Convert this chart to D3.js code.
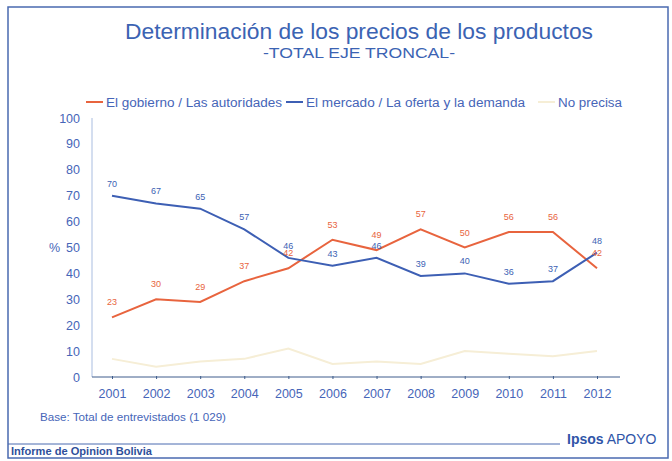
<!DOCTYPE html>
<html>
<head>
<meta charset="utf-8">
<script src="https://cdn.jsdelivr.net/npm/d3@7"></script>
<style>
  body { margin: 0; background: #fff; }
  svg { display: block; font-family: Arial, "Liberation Sans", sans-serif; }
</style>
</head>
<body>
<svg></svg>
<script>
// datos
const years = ["2001", "2002", "2003", "2004", "2005", "2006", "2007", "2008", "2009", "2010", "2011", "2012"];
const gobierno = [23, 30, 29, 37, 42, 53, 49, 57, 50, 56, 56, 42];
const mercado = [70, 67, 65, 57, 46, 43, 46, 39, 40, 36, 37, 48];
const noPrecisa = [7, 4, 6, 7, 11, 5, 6, 5, 10, 9, 8, 10];
const yTicks = [0, 10, 20, 30, 40, 50, 60, 70, 80, 90, 100];

const width = 672, height = 461;
const blue = "#3d5fb4", orange = "#e8643e", pale = "#f6eed6", textBlue = "#4665b8";

const svg = d3.select("svg").attr("width", width).attr("height", height);

// marco
svg.append("rect")
    .attr("x", 8).attr("y", 7).attr("width", 660).attr("height", 451)
    .attr("fill", "none").attr("stroke", "#4a6ab0").attr("stroke-width", 1.5);

// titulos (el original esta un poco estirado a lo ancho)
svg.append("text")
    .attr("x", 125).attr("y", 39)
    .attr("font-size", 22).attr("fill", "#3b63b3")
    .attr("textLength", 468).attr("lengthAdjust", "spacingAndGlyphs")
    .text("Determinación de los precios de los productos");
svg.append("text")
    .attr("x", 263).attr("y", 58)
    .attr("font-size", 14).attr("fill", "#3b63b3")
    .attr("textLength", 192).attr("lengthAdjust", "spacingAndGlyphs")
    .text("-TOTAL EJE TRONCAL-");

const x = d3.scalePoint().domain(years).range([112, 597]);
const y = d3.scaleLinear().domain([0, 100]).range([377, 118]);

// eje y
svg.append("line")
    .attr("x1", 92).attr("x2", 92).attr("y1", y(100)).attr("y2", y(0))
    .attr("stroke", "#a9bde0");
const yAxis = svg.append("g")
    .attr("transform", "translate(80,0)")
    .call(d3.axisLeft(y).tickValues(yTicks).tickSize(0).tickPadding(0));
yAxis.select(".domain").remove();
yAxis.selectAll("text").attr("font-size", 12.5).attr("fill", textBlue).attr("font-family", "Arial, 'Liberation Sans', sans-serif");

svg.append("text")
    .attr("x", 60).attr("y", y(50) + 4)
    .attr("text-anchor", "end")
    .attr("font-size", 12.5).attr("fill", textBlue)
    .text("%");

// eje x
const xAxis = svg.append("g")
    .attr("transform", "translate(0," + y(0) + ")")
    .call(d3.axisBottom(x).tickSize(3).tickPadding(9));
xAxis.select(".domain").attr("d", "M92,0H620").attr("stroke", "#3e5c8c");
xAxis.selectAll(".tick line").attr("stroke", "#3e5c8c").attr("y1", -1).attr("y2", 2);
xAxis.selectAll("text").attr("font-size", 12.5).attr("fill", textBlue).attr("font-family", "Arial, 'Liberation Sans', sans-serif");

// lineas
const line = d3.line().x((d, i) => x(years[i])).y(d => y(d));

svg.append("path").datum(noPrecisa)
    .attr("d", line).attr("fill", "none")
    .attr("stroke", pale).attr("stroke-width", 2);
svg.append("path").datum(gobierno)
    .attr("d", line).attr("fill", "none")
    .attr("stroke", orange).attr("stroke-width", 2);
svg.append("path").datum(mercado)
    .attr("d", line).attr("fill", "none")
    .attr("stroke", blue).attr("stroke-width", 2);

// etiquetas de valores
svg.append("g").selectAll("text")
    .data(gobierno)
    .enter()
    .append("text")
    .attr("x", (d, i) => x(years[i]))
    .attr("y", d => y(d) - 12)
    .attr("text-anchor", "middle")
    .attr("font-size", 9).attr("fill", orange)
    .text(d => d);

svg.append("g").selectAll("text")
    .data(mercado)
    .enter()
    .append("text")
    .attr("x", (d, i) => x(years[i]))
    .attr("y", d => y(d) - 9)
    .attr("text-anchor", "middle")
    .attr("font-size", 9).attr("fill", blue)
    .text(d => d);

// leyenda
const legend = [
    { name: "El gobierno / Las autoridades", color: orange, x: 86, w: 176 },
    { name: "El mercado / La oferta y la demanda", color: blue, x: 286, w: 219 },
    { name: "No precisa", color: pale, x: 538, w: 64 }
];
const lg = svg.append("g").selectAll("g")
    .data(legend)
    .enter()
    .append("g")
    .attr("transform", d => "translate(" + d.x + ",102)");
lg.append("line")
    .attr("x1", 0).attr("x2", 17)
    .attr("stroke", d => d.color).attr("stroke-width", 2);
lg.append("text")
    .attr("x", 20).attr("y", 4.5)
    .attr("font-size", 12).attr("fill", textBlue)
    .attr("textLength", d => d.w).attr("lengthAdjust", "spacingAndGlyphs")
    .text(d => d.name);

// pie
svg.append("text")
    .attr("x", 40).attr("y", 421)
    .attr("font-size", 10.5).attr("fill", textBlue)
    .attr("textLength", 186).attr("lengthAdjust", "spacingAndGlyphs")
    .text("Base: Total de entrevistados (1 029)");
svg.append("line")
    .attr("x1", 8).attr("x2", 560).attr("y1", 444).attr("y2", 444)
    .attr("stroke", "#4a6ab0").attr("stroke-width", 1);
svg.append("text")
    .attr("x", 11).attr("y", 455)
    .attr("font-size", 10).attr("font-weight", "bold").attr("fill", "#2f4f9a")
    .attr("textLength", 141).attr("lengthAdjust", "spacingAndGlyphs")
    .text("Informe de Opinion Bolivia");
svg.append("text")
    .attr("x", 567).attr("y", 444)
    .attr("font-size", 14).attr("fill", "#2f55a8")
    .html("<tspan font-weight='bold'>Ipsos</tspan> APOYO");
</script>
</body>
</html>
